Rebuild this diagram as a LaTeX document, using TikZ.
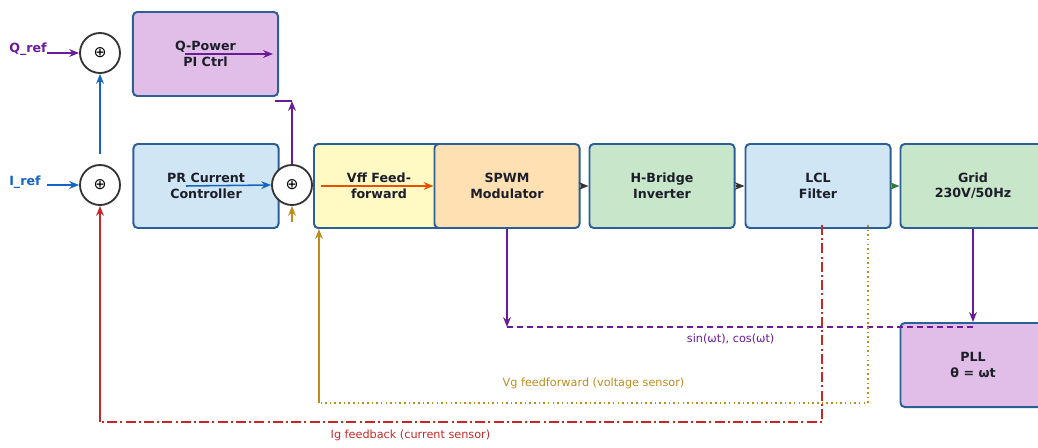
\documentclass[tikz,border=0pt]{standalone}
\usepackage{fontspec}
\setmainfont{DejaVu Sans}
\usepackage{xcolor}
\definecolor{pvborde}{RGB}{44, 95, 150}
\definecolor{pvtexto}{RGB}{28, 30, 42}
\definecolor{pvgris}{RGB}{51, 51, 51}
\definecolor{qmorado}{RGB}{106, 27, 154}
\definecolor{iazul}{RGB}{21, 101, 192}
\definecolor{igrojo}{RGB}{198, 40, 40}
\definecolor{vgoro}{RGB}{188, 140, 30}
\definecolor{vffnaranja}{RGB}{230, 81, 0}
\definecolor{lclverde}{RGB}{46, 125, 50}
\definecolor{lila}{RGB}{225, 190, 231}
\definecolor{celeste}{RGB}{208, 230, 245}
\definecolor{amarillo}{RGB}{255, 249, 196}
\definecolor{melocoton}{RGB}{255, 224, 178}
\definecolor{verdeclaro}{RGB}{200, 230, 201}
\usepackage{tikz}
\usetikzlibrary{arrows.meta, positioning}

\begin{document}
\begin{tikzpicture}[x=0.025cm, y=-0.025cm,
            block/.style={rectangle, rounded corners=3pt, draw=pvborde, line width=1.4pt, minimum width=3.625cm, minimum height=2.1cm, align=center, text=pvtexto, font=\fontsize{9}{11}\selectfont\bfseries},
            suma/.style={circle, draw=pvgris, line width=1.3pt, fill=white, minimum size=1cm, inner sep=0pt, font=\fontsize{11}{11}\selectfont},
            entrada/.style={anchor=west, inner sep=0pt, font=\fontsize{9}{11}\selectfont\bfseries},
            senal/.style={line width=1.1pt, -{Stealth[length=7pt, width=5.5pt]}},
            linea/.style={line width=1.1pt},
            etiqueta/.style={font=\fontsize{8}{10}\selectfont}
        ]
            \useasboundingbox (0,0) rectangle (1038,447);
            \clip (0,0) rectangle (1038,447);

            % Entradas y sumadores
            \node (qref) [entrada, text=qmorado] at (9,49) {Q\_ref};
            \node (iref) [entrada, text=iazul] at (9,182) {I\_ref};
            \coordinate (qin) at (47,53);
            \coordinate (iin) at (47,185);
            \node (qsum) [suma] at (100,53) {⊕};
            \node (isum) [suma] at (100,185) {⊕};

            % Bloques de control
            \node (qpi) [block, fill=lila] at (205.5,54) {Q-Power\\PI Ctrl};
            \node (prc) [block, fill=celeste] at (206,186) {PR Current\\Controller};
            \node (pisum) [suma] at (292,185) {⊕};
            \node (vff) [block, fill=amarillo, minimum width=3.25cm] at (379,186) {Vff Feed-\\forward};
            \node (spwm) [block, fill=melocoton] at (507,186) {SPWM\\Modulator};
            \node (hbridge) [block, fill=verdeclaro] at (662,186) {H-Bridge\\Inverter};
            \node (lcl) [block, fill=celeste] at (818,186) {LCL\\Filter};
            \node (grid) [block, fill=verdeclaro] at (973,186) {Grid\\230V/50Hz};
            \node (pll) [block, fill=lila] at (973,365) {PLL\\θ = ωt};

            % Lazo de referencia
            \draw [senal, draw=qmorado] (qin) -- (qsum.west);
            \draw [senal, draw=iazul] (iin) -- (isum.west);
            \draw [senal, draw=iazul] ([yshift=0.25cm]isum.north) -- (qsum.south);
            \draw [senal, draw=qmorado] ([xshift=-0.5cm]qpi.center) -- ([xshift=-0.15cm]qpi.east);
            \draw [senal, draw=iazul] ([xshift=-0.5cm]prc.center) -- (pisum.west);
            \coordinate (qc) at ([yshift=-0.1cm]pisum.north |- qpi.south);
            \draw [senal, draw=qmorado] (pisum.north) -- (qc);
            \draw [linea, qmorado] (qc) -- ([xshift=-0.1cm]qc -| qpi.east);
            \draw [senal, draw=vgoro] ([yshift=-0.4cm]pisum.south) -- (pisum.south);
            \draw [senal, draw=vffnaranja] ([xshift=0.2cm]vff.west) -- (spwm.west);

            % Etapa de potencia
            \draw [senal, draw=pvgris] (spwm.east) -- (hbridge.west);
            \draw [senal, draw=pvgris] (hbridge.east) -- (lcl.west);
            \draw [senal, draw=lclverde] (lcl.east) -- (grid.west);

            % Sincronismo PLL
            \coordinate (sc) at ([yshift=-0.125cm]spwm.south |- pll.north);
            \draw [senal, draw=qmorado] (spwm.south) -- (sc);
            \draw [linea, qmorado, dash pattern=on 0.15cm off 0.1cm] (sc) -- node[etiqueta, below=1pt, pos=0.48, text=qmorado] {sin(ωt), cos(ωt)} (sc -| grid.south);
            \draw [senal, draw=qmorado] (grid.south) -- (pll.north);

            % Realimentaciones
            \coordinate (vgc) at ([xshift=1.25cm, yshift=0.1cm]lcl.south);
            \coordinate (vgb) at ([xshift=0.15cm]vff.south west |- 0,403);
            \draw [line width=1.1pt, vgoro, dash pattern=on 1.1pt off 2.2pt] (vgc) |- node[etiqueta, above=6pt, pos=0.75, text=vgoro] {Vg feedforward (voltage sensor)} (vgb);
            \draw [senal, draw=vgoro] (vgb) -- ([xshift=0.15cm]vff.south west);
            \coordinate (igc) at ([xshift=0.1cm, yshift=0.1cm]lcl.south);
            \coordinate (igb) at (isum.south |- 0,422);
            \draw [linea, igrojo, dash pattern=on 0.25cm off 0.08cm on 0.05cm off 0.08cm] (igc) |- node[etiqueta, below=2pt, pos=0.785, text=igrojo] {Ig feedback (current sensor)} (igb);
            \draw [senal, draw=igrojo] (igb) -- (isum.south);
        \end{tikzpicture}
\end{document}
